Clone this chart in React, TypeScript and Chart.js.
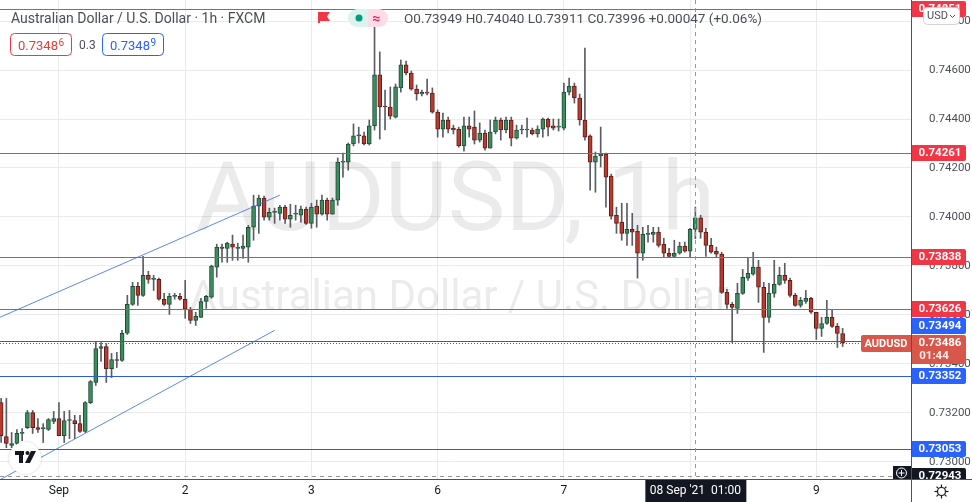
import React, { useEffect, useRef } from "react";
import { Chart, registerables } from "chart.js";

Chart.register(...registerables);

// ---------- DATA ----------
const opens = [
  0.73242, 0.73103, 0.73067, 0.73075, 0.73116, 0.7314, 0.73201, 0.7314, 0.73136, 0.73132,
  0.73165, 0.73177, 0.73107, 0.73169, 0.73169, 0.73156, 0.73124, 0.73242, 0.73324, 0.73463,
  0.73471, 0.73381, 0.73418, 0.73414, 0.73525, 0.73643, 0.73717, 0.7368, 0.73762, 0.73745,
  0.73745, 0.73664, 0.73643, 0.73676, 0.73676, 0.73664, 0.73623, 0.73578, 0.7359, 0.73655,
  0.73672, 0.73795, 0.73877, 0.73872, 0.73889, 0.73872, 0.73872, 0.73877, 0.73958, 0.74044,
  0.74077, 0.73999, 0.74019, 0.74015, 0.7404, 0.73991, 0.74011, 0.74007, 0.74032, 0.73974,
  0.74044, 0.74011, 0.74069, 0.74011, 0.74069, 0.74224, 0.74224, 0.74298, 0.74335, 0.74331,
  0.74298, 0.74372, 0.7458, 0.74453, 0.74449, 0.74408, 0.74527, 0.74621, 0.74588, 0.74522,
  0.74502, 0.7451, 0.74506, 0.74428, 0.74359, 0.74396, 0.74363, 0.74359, 0.7429, 0.74372,
  0.74367, 0.74314, 0.74343, 0.74281, 0.74347, 0.74396, 0.74355, 0.74396, 0.74322, 0.74355,
  0.74355, 0.74355, 0.74339, 0.74359, 0.744, 0.74372, 0.74367, 0.74363, 0.7451, 0.74535,
  0.74486, 0.74396, 0.74331, 0.74224, 0.74249, 0.74257, 0.74167, 0.74007, 0.73979, 0.73933,
  0.7395, 0.73942, 0.73852, 0.73929, 0.73929, 0.73938, 0.73889, 0.73852, 0.73839, 0.73852,
  0.73881, 0.7386, 0.73949, 0.73996, 0.73938, 0.73884, 0.7386, 0.73848, 0.73692, 0.73643,
  0.73627, 0.73688, 0.7375, 0.73766, 0.73795, 0.73713, 0.7359, 0.73688, 0.73725, 0.73762,
  0.73741, 0.7368, 0.73639, 0.73655, 0.73668, 0.73611, 0.73545, 0.73565, 0.7359, 0.73553,
  0.73524,
];
const highs = [
  0.73259, 0.73259, 0.7312, 0.73132, 0.73136, 0.7321, 0.7321, 0.73177, 0.73156, 0.73177,
  0.73206, 0.73242, 0.73206, 0.7321, 0.7319, 0.7319, 0.73246, 0.73332, 0.73491, 0.73487,
  0.73483, 0.73443, 0.73447, 0.73537, 0.7368, 0.73733, 0.73733, 0.73839, 0.73778, 0.73762,
  0.7375, 0.73688, 0.73688, 0.73688, 0.73688, 0.73741, 0.73631, 0.73611, 0.73668, 0.7368,
  0.73803, 0.73889, 0.73889, 0.73897, 0.73926, 0.73893, 0.73926, 0.73966, 0.74089, 0.74089,
  0.74085, 0.74036, 0.74036, 0.74048, 0.74048, 0.74052, 0.74048, 0.74044, 0.7404, 0.74056,
  0.74069, 0.74089, 0.74077, 0.74077, 0.74241, 0.74261, 0.74302, 0.7438, 0.74367, 0.74347,
  0.74396, 0.74776, 0.74674, 0.74518, 0.74531, 0.74543, 0.74641, 0.74637, 0.74596, 0.74539,
  0.74518, 0.74563, 0.74527, 0.74437, 0.74424, 0.74408, 0.74375, 0.74367, 0.74408, 0.74408,
  0.74433, 0.74384, 0.74355, 0.74396, 0.74408, 0.74404, 0.74408, 0.74408, 0.74375, 0.74375,
  0.74404, 0.74363, 0.74372, 0.74404, 0.74404, 0.744, 0.744, 0.74547, 0.74567, 0.74547,
  0.74502, 0.7469, 0.74335, 0.74265, 0.74367, 0.74261, 0.74175, 0.7404, 0.74056, 0.74056,
  0.74015, 0.73966, 0.73958, 0.73966, 0.73958, 0.73958, 0.73913, 0.73872, 0.73905, 0.73897,
  0.73897, 0.73954, 0.7404, 0.74007, 0.73954, 0.73913, 0.73877, 0.73856, 0.73705, 0.73651,
  0.73729, 0.73786, 0.73835, 0.73856, 0.73823, 0.73733, 0.73729, 0.73823, 0.73795, 0.73811,
  0.7375, 0.73688, 0.73672, 0.737, 0.73672, 0.73611, 0.7359, 0.7366, 0.73619, 0.73565,
  0.73545,
];
const lows = [
  0.73079, 0.73058, 0.73058, 0.73067, 0.73087, 0.73136, 0.73116, 0.7312, 0.73079, 0.73128,
  0.73156, 0.73107, 0.73079, 0.73095, 0.73095, 0.7312, 0.7312, 0.73238, 0.73312, 0.7341,
  0.73324, 0.73344, 0.73385, 0.7341, 0.7352, 0.73639, 0.73639, 0.73676, 0.73729, 0.737,
  0.7366, 0.73639, 0.73602, 0.73664, 0.7366, 0.73586, 0.73565, 0.73557, 0.7359, 0.73627,
  0.73668, 0.73754, 0.73815, 0.73815, 0.73823, 0.73823, 0.73831, 0.73815, 0.73905, 0.73933,
  0.73987, 0.73987, 0.73974, 0.73987, 0.73974, 0.73958, 0.73987, 0.73979, 0.7397, 0.73954,
  0.73958, 0.74007, 0.73987, 0.74011, 0.74048, 0.74163, 0.74191, 0.7429, 0.74302, 0.74294,
  0.74294, 0.74355, 0.74318, 0.74355, 0.744, 0.74404, 0.7451, 0.7458, 0.74518, 0.74477,
  0.74494, 0.74498, 0.74424, 0.74326, 0.74326, 0.74343, 0.74339, 0.74285, 0.74269, 0.74326,
  0.74298, 0.74306, 0.74273, 0.74281, 0.74339, 0.74314, 0.74343, 0.7429, 0.74318, 0.74339,
  0.74326, 0.74335, 0.74326, 0.74326, 0.74331, 0.74355, 0.74351, 0.74355, 0.74498, 0.74465,
  0.74375, 0.74314, 0.74109, 0.74101, 0.74204, 0.7404, 0.73991, 0.73933, 0.73905, 0.73884,
  0.73884, 0.7375, 0.73823, 0.73897, 0.73897, 0.73877, 0.73835, 0.73835, 0.73835, 0.73848,
  0.73856, 0.73835, 0.73911, 0.73913, 0.73839, 0.73852, 0.73835, 0.73688, 0.73627, 0.73487,
  0.73606, 0.73684, 0.73741, 0.73762, 0.73651, 0.73447, 0.73569, 0.73672, 0.73721, 0.73729,
  0.73672, 0.73635, 0.73631, 0.73647, 0.73606, 0.735, 0.73512, 0.73561, 0.73549, 0.73467,
  0.73471,
];
const closes = [
  0.73107, 0.73075, 0.73075, 0.73116, 0.7312, 0.73201, 0.7314, 0.73132, 0.73136, 0.73173,
  0.73177, 0.73107, 0.73169, 0.73169, 0.73156, 0.73124, 0.73242, 0.73328, 0.73463, 0.73471,
  0.73381, 0.73418, 0.73414, 0.73525, 0.73643, 0.73717, 0.7368, 0.73762, 0.73745, 0.73745,
  0.73664, 0.73643, 0.73676, 0.73676, 0.73664, 0.73623, 0.73578, 0.73594, 0.73655, 0.73676,
  0.73799, 0.73877, 0.73872, 0.73893, 0.73877, 0.73872, 0.73881, 0.73958, 0.74044, 0.74077,
  0.73999, 0.74019, 0.74019, 0.7404, 0.73991, 0.74007, 0.74011, 0.74032, 0.73974, 0.7404,
  0.74011, 0.74069, 0.74011, 0.74069, 0.74224, 0.74224, 0.74298, 0.74331, 0.74331, 0.74298,
  0.74372, 0.7458, 0.74449, 0.74449, 0.74412, 0.74531, 0.74621, 0.74588, 0.74522, 0.74502,
  0.7451, 0.74506, 0.74428, 0.74359, 0.74396, 0.74359, 0.74355, 0.7429, 0.74372, 0.74359,
  0.74314, 0.74343, 0.74281, 0.74347, 0.74396, 0.74355, 0.74396, 0.74322, 0.74355, 0.74355,
  0.74355, 0.74339, 0.74359, 0.744, 0.74367, 0.74363, 0.74367, 0.7451, 0.74535, 0.74486,
  0.74396, 0.74326, 0.74224, 0.74249, 0.74257, 0.74163, 0.74003, 0.73974, 0.73933, 0.7395,
  0.73938, 0.73852, 0.73929, 0.73933, 0.73938, 0.73884, 0.73852, 0.73839, 0.73852, 0.73881,
  0.7386, 0.7395, 0.73996, 0.73938, 0.73884, 0.73856, 0.73848, 0.73692, 0.73643, 0.73631,
  0.73688, 0.73754, 0.7377, 0.73795, 0.73713, 0.7359, 0.73688, 0.73725, 0.73762, 0.73741,
  0.7368, 0.73639, 0.7366, 0.73668, 0.73611, 0.73545, 0.73565, 0.7359, 0.73553, 0.73524,
  0.73486,
];

const dayTickIndex = [11, 35, 59, 83, 107, 131, 155];
const dayTickLabels = ["Sep", "2", "3", "6", "7", "8", "9"];
const priceTicks = [0.73, 0.732, 0.734, 0.736, 0.738, 0.74, 0.742, 0.744, 0.746, 0.748];

const redLevels = [0.74851, 0.74261, 0.73838, 0.73626];
const blueLevels = [0.73494, 0.73352, 0.73053];
const lastPrice = 0.73486;
const countdown = "01:44";
const crossIndex = 132;
const crossPrice = 0.72943;
const crossLabel = "08 Sep '21  01:00";

const upperTrendX = [-1, 53];
const upperTrendY = [0.73583, 0.74089];
const lowerTrendX = [-1, 52];
const lowerTrendY = [0.72918, 0.73537];

const titleText = "Australian Dollar / U.S. Dollar · 1h · FXCM";
const ohlcText = "O0.73949 H0.74040 L0.73911 C0.73996 +0.00047 (+0.06%)";
const bidMain = "0.7348";
const bidSup = "6";
const askMain = "0.7348";
const askSup = "9";
const spreadText = "0.3";

// ---------- STYLE ----------
const FONT = "Roboto, 'Noto Sans', sans-serif";
const GRID = "#e9ebf0";
const UP_FILL = "#3d8c5f";
const UP_BORDER = "#1e4d34";
const DN_FILL = "#b83a30";
const DN_BORDER = "#5e1c16";
const WICK = "#5a5d66";
const RED = "#f23645";
const RED_LINE = "#e2463d";
const BLUE = "#2962ff";
const BLUE_LINE = "#2f5bd6";
const TEXT = "#131722";
const TEXT_GREY = "#4c4f5a";

function rr(ctx: CanvasRenderingContext2D, x: number, y: number, w: number, h: number, r: any) {
  ctx.beginPath();
  (ctx as any).roundRect(x, y, w, h, r);
}

const overlayPlugin = {
  id: "tvOverlay",
  beforeDatasetsDraw(chart: any) {
    const { ctx, chartArea: a } = chart;
    ctx.save();
    ctx.beginPath();
    ctx.rect(a.left, a.top, a.right - a.left, a.bottom - a.top);
    ctx.clip();
    ctx.fillStyle = "rgba(19,23,34,0.085)";
    ctx.textAlign = "center";
    ctx.textBaseline = "alphabetic";
    const cx = (a.left + a.right) / 2;
    ctx.font = `97px ${FONT}`;
    ctx.fillText("AUDUSD, 1h", cx, 230);
    ctx.font = `42px ${FONT}`;
    ctx.fillText("Australian Dollar / U.S. Dollar", cx + 4, 310);
    ctx.restore();
  },
  afterDatasetsDraw(chart: any) {
    const { ctx, chartArea: a, scales } = chart;
    const ys = scales.y;
    const xs = scales.x;
    ctx.save();
    ctx.beginPath();
    ctx.rect(a.left, a.top, a.right - a.left, a.bottom - a.top);
    ctx.clip();
    ctx.setLineDash([]);
    ctx.globalAlpha = 1;
    const hline = (v: number, color: string, dash: number, gap: number, x1: number) => {
      const y = Math.round(ys.getPixelForValue(v));
      ctx.fillStyle = color;
      if (dash <= 0) {
        ctx.fillRect(a.left, y, x1 - a.left, 1);
      } else {
        for (let x = a.left; x < x1; x += dash + gap) {
          ctx.fillRect(x, y, Math.min(dash, x1 - x), 1);
        }
      }
    };
    redLevels.forEach((v) => hline(v, RED_LINE, 0, 0, a.right));
    blueLevels.forEach((v) => hline(v, BLUE_LINE, 0, 0, a.right));
    hline(lastPrice, BLUE_LINE, 1, 2, a.right);
    // crosshair
    hline(crossPrice, "#9598a1", 4, 4, a.right - 18);
    const cxp = Math.round(xs.getPixelForValue(crossIndex));
    ctx.fillStyle = "#9598a1";
    for (let y = a.top; y < a.bottom; y += 8) {
      ctx.fillRect(cxp, y, 1, 4);
    }

    // TradingView logo bubble
    ctx.fillStyle = "#ffffff";
    ctx.shadowColor = "rgba(0,0,0,0.18)";
    ctx.shadowBlur = 3;
    ctx.beginPath();
    ctx.arc(25, 458, 16, 0, Math.PI * 2);
    ctx.fill();
    ctx.shadowBlur = 0;
    ctx.shadowColor = "transparent";
    ctx.fillStyle = "#131722";
    ctx.fillRect(15, 451, 9, 4);
    ctx.fillRect(19, 451, 4, 12);
    ctx.beginPath();
    ctx.arc(27.5, 453, 2, 0, Math.PI * 2);
    ctx.fill();
    ctx.beginPath();
    ctx.moveTo(31, 451);
    ctx.lineTo(36, 451);
    ctx.lineTo(30, 463);
    ctx.lineTo(25, 463);
    ctx.closePath();
    ctx.fill();
    ctx.restore();
  },
  afterDraw(chart: any) {
    const { ctx, chartArea: a, scales, width, height } = chart;
    const ys = scales.y;
    const xs = scales.x;
    ctx.save();
    ctx.setLineDash([]);

    // axis frame
    ctx.fillStyle = "#50535e";
    ctx.fillRect(a.right, 0, 1, height);
    ctx.fillRect(0, a.bottom, width, 1);

    // right axis area
    ctx.save();
    ctx.beginPath();
    ctx.rect(a.right + 1, 0, width - a.right - 1, a.bottom);
    ctx.clip();
    ctx.font = `11.5px ${FONT}`;
    ctx.fillStyle = TEXT_GREY;
    ctx.textAlign = "left";
    ctx.textBaseline = "middle";
    priceTicks.forEach((v) => {
      ctx.fillText(v.toFixed(5), a.right + 18, ys.getPixelForValue(v));
    });

    const bx = a.right + 1;
    const bw = 54;
    const yLast = ys.getPixelForValue(lastPrice);
    const pTop = Math.round(yLast) - 8;
    const pBot = pTop + 29;
    const tag = (v: number, color: string, fg: string) => {
      const y = ys.getPixelForValue(v);
      let top = Math.round(y) - 8;
      let bot = top + 16;
      if (v !== crossPrice && bot > pTop && top < pBot) {
        if (y <= yLast) {
          bot = pTop - 1;
          top = bot - 16;
        } else {
          top = pBot + 1;
          bot = top + 16;
        }
      }
      ctx.fillStyle = color;
      rr(ctx, bx, top, bw, 16, [0, 2, 2, 0]);
      ctx.fill();
      ctx.fillStyle = fg;
      ctx.font = `bold 11.5px ${FONT}`;
      ctx.textAlign = "center";
      ctx.fillText(v.toFixed(5), bx + 28, top + 8.5);
    };
    redLevels.forEach((v) => tag(v, RED, "#fff"));
    blueLevels.forEach((v) => tag(v, BLUE, "#fff"));
    // last price + countdown
    ctx.fillStyle = "#d9574a";
    rr(ctx, bx, pTop, bw, 29, [0, 2, 2, 0]);
    ctx.fill();
    ctx.fillStyle = "#fff";
    ctx.font = `bold 11.5px ${FONT}`;
    ctx.textAlign = "center";
    ctx.fillText(lastPrice.toFixed(5), bx + 28, pTop + 8.5);
    ctx.fillStyle = "rgba(255,255,255,0.88)";
    ctx.fillText(countdown, bx + 22, pTop + 21.5);
    // crosshair price
    tag(crossPrice, "#131722", "#fff");
    ctx.restore();

    // symbol tag left of axis
    ctx.fillStyle = "#d9574a";
    rr(ctx, a.right - 50, pTop, 50, 17, [2, 0, 0, 2]);
    ctx.fill();
    ctx.fillStyle = "#fff";
    ctx.font = `bold 11px ${FONT}`;
    ctx.textAlign = "center";
    ctx.textBaseline = "middle";
    ctx.fillText("AUDUSD", a.right - 25, pTop + 9);

    // crosshair "+" button
    ctx.fillStyle = "#131722";
    ctx.fillRect(a.right - 18, a.bottom - 13, 18, 13);
    ctx.strokeStyle = "#fff";
    ctx.lineWidth = 1;
    ctx.beginPath();
    ctx.arc(a.right - 9.5, a.bottom - 6, 5, 0, Math.PI * 2);
    ctx.moveTo(a.right - 12.5, a.bottom - 6);
    ctx.lineTo(a.right - 6.5, a.bottom - 6);
    ctx.moveTo(a.right - 9.5, a.bottom - 9);
    ctx.lineTo(a.right - 9.5, a.bottom - 3);
    ctx.stroke();

    // x axis labels
    ctx.font = `12px ${FONT}`;
    ctx.fillStyle = TEXT;
    ctx.textAlign = "center";
    ctx.textBaseline = "middle";
    dayTickIndex.forEach((v, i) => {
      ctx.fillText(dayTickLabels[i], xs.getPixelForValue(v), a.bottom + 12);
    });
    const cxp = xs.getPixelForValue(crossIndex);
    ctx.fillStyle = "#131722";
    ctx.fillRect(cxp - 50, a.bottom + 1, 101, height - a.bottom - 1);
    ctx.fillStyle = "#fff";
    ctx.fillText(crossLabel, cxp, a.bottom + 12);

    // settings icon
    ctx.strokeStyle = TEXT;
    ctx.lineWidth = 1.2;
    const gx = 941.5, gy = 491.5;
    ctx.beginPath();
    ctx.arc(gx, gy, 4, 0, Math.PI * 2);
    ctx.stroke();
    for (let k = 0; k < 8; k++) {
      const ang = (k * Math.PI) / 4;
      ctx.beginPath();
      ctx.moveTo(gx + Math.cos(ang) * 4.5, gy + Math.sin(ang) * 4.5);
      ctx.lineTo(gx + Math.cos(ang) * 7, gy + Math.sin(ang) * 7);
      ctx.stroke();
    }

    // USD button
    ctx.lineWidth = 1;
    ctx.fillStyle = "#fff";
    ctx.strokeStyle = "#d1d4dc";
    rr(ctx, 923.5, 7.5, 36, 17, 4);
    ctx.fill();
    ctx.stroke();
    ctx.fillStyle = TEXT_GREY;
    ctx.font = `11px ${FONT}`;
    ctx.textAlign = "left";
    ctx.fillText("USD", 927, 16.5);
    ctx.strokeStyle = TEXT_GREY;
    ctx.beginPath();
    ctx.moveTo(950, 15);
    ctx.lineTo(952.5, 17.5);
    ctx.lineTo(955, 15);
    ctx.stroke();

    // header legend
    ctx.textBaseline = "alphabetic";
    ctx.textAlign = "left";
    ctx.font = `14px ${FONT}`;
    ctx.fillStyle = TEXT_GREY;
    ctx.fillText(titleText, 11, 22.5);
    // flag
    ctx.fillStyle = RED;
    ctx.beginPath();
    ctx.moveTo(318, 12);
    ctx.lineTo(330, 12);
    ctx.lineTo(327, 16.5);
    ctx.lineTo(330, 21);
    ctx.lineTo(318, 21);
    ctx.closePath();
    ctx.fill();
    ctx.fillRect(318, 12, 2, 11);
    // pill
    ctx.fillStyle = "#dcf2ec";
    rr(ctx, 348, 9, 20, 18, [9, 0, 0, 9]);
    ctx.fill();
    ctx.fillStyle = "#fcdce6";
    rr(ctx, 368, 9, 20, 18, [0, 9, 9, 0]);
    ctx.fill();
    ctx.fillStyle = "#089981";
    ctx.beginPath();
    ctx.arc(359, 18, 3.5, 0, Math.PI * 2);
    ctx.fill();
    ctx.fillStyle = "#e91e63";
    ctx.font = `bold 14px ${FONT}`;
    ctx.textAlign = "center";
    ctx.fillText("≈", 376.5, 22.5);
    ctx.textAlign = "left";
    ctx.font = `13.5px ${FONT}`;
    ctx.fillStyle = TEXT_GREY;
    ctx.fillText(ohlcText, 404, 22.5);

    // bid / ask boxes
    ctx.lineWidth = 1;
    ctx.strokeStyle = RED;
    ctx.fillStyle = "#fff";
    rr(ctx, 10.5, 33.5, 61, 22, 4);
    ctx.fill();
    ctx.stroke();
    ctx.strokeStyle = BLUE;
    rr(ctx, 102.5, 33.5, 61, 22, 4);
    ctx.fill();
    ctx.stroke();
    const drawQuote = (x: number, main: string, sup: string, color: string) => {
      ctx.fillStyle = color;
      ctx.font = `13px ${FONT}`;
      ctx.fillText(main, x, 49.5);
      const w = ctx.measureText(main).width;
      ctx.font = `10px ${FONT}`;
      ctx.fillText(sup, x + w + 0.5, 46);
    };
    drawQuote(18, bidMain, bidSup, "#e0403a");
    drawQuote(110, askMain, askSup, "#2962ff");
    ctx.font = `12px ${FONT}`;
    ctx.fillStyle = TEXT_GREY;
    ctx.fillText(spreadText, 79, 49);

    ctx.restore();
  },
};

export default function App() {
  const canvasRef = useRef<HTMLCanvasElement | null>(null);

  useEffect(() => {
    document.body.style.margin = "0";
    document.body.style.background = "#ffffff";
    const canvas = canvasRef.current;
    if (!canvas) return;

    const isUp = opens.map((o, i) => closes[i] >= o);
    const bodies = opens.map((o, i) => ({ x: i, y: [o, closes[i]] }));
    const wicks = lows.map((l, i) => ({ x: i, y: [l, highs[i]] }));

    const chart = new Chart(canvas, {
      type: "bar",
      data: {
        datasets: [
          {
            type: "line",
            data: upperTrendX.map((x, i) => ({ x, y: upperTrendY[i] })),
            borderColor: "rgba(52,108,230,0.8)",
            borderWidth: 1,
            pointRadius: 0,
            order: 0,
          } as any,
          {
            type: "line",
            data: lowerTrendX.map((x, i) => ({ x, y: lowerTrendY[i] })),
            borderColor: "rgba(52,108,230,0.8)",
            borderWidth: 1,
            pointRadius: 0,
            order: 0,
          } as any,
          {
            type: "bar",
            data: bodies as any,
            backgroundColor: isUp.map((u) => (u ? UP_FILL : DN_FILL)),
            borderColor: isUp.map((u) => (u ? UP_BORDER : DN_BORDER)),
            borderWidth: 1,
            borderSkipped: false,
            barThickness: 4,
            minBarLength: 1,
            grouped: false,
            order: 1,
          } as any,
          {
            type: "bar",
            data: wicks as any,
            backgroundColor: WICK,
            borderWidth: 0,
            barThickness: 1,
            grouped: false,
            order: 2,
          } as any,
        ],
      },
      options: {
        responsive: false,
        maintainAspectRatio: false,
        animation: false,
        events: [],
        layout: { padding: 0 },
        plugins: { legend: { display: false }, tooltip: { enabled: false } },
        scales: {
          x: {
            type: "linear",
            offset: false,
            min: -0.21,
            max: 173.0,
            grid: { color: GRID, drawTicks: false, offset: false },
            border: { display: false },
            ticks: { display: false },
            afterBuildTicks: (s: any) => {
              s.ticks = dayTickIndex.map((v) => ({ value: v }));
            },
            afterFit: (s: any) => {
              s.height = 23;
            },
          },
          y: {
            type: "linear",
            position: "right",
            min: 0.7293,
            max: 0.74886,
            grid: { color: GRID, drawTicks: false },
            border: { display: false },
            ticks: { display: false },
            afterBuildTicks: (s: any) => {
              s.ticks = priceTicks.map((v) => ({ value: v }));
            },
            afterFit: (s: any) => {
              s.width = 61;
            },
          },
        },
      } as any,
      plugins: [overlayPlugin as any],
    });

    return () => {
      chart.destroy();
    };
  }, []);

  return (
    <div style={{ width: 972, height: 502, background: "#fff" }}>
      <canvas ref={canvasRef} width={972} height={502} style={{ display: "block" }} />
    </div>
  );
}
